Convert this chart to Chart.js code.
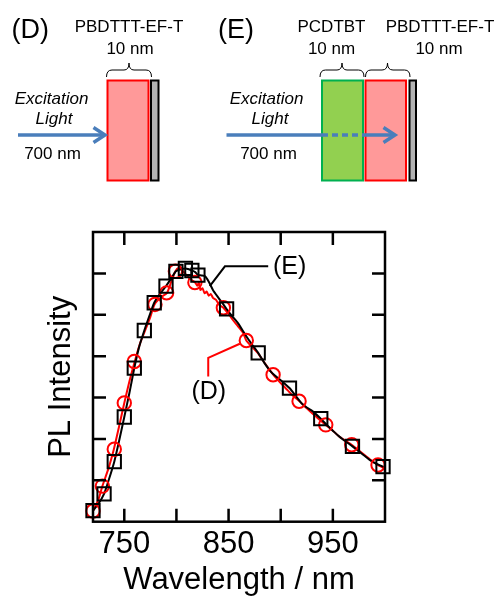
<!DOCTYPE html>
<html>
<head>
<meta charset="utf-8">
<script src="https://cdn.jsdelivr.net/npm/chart.js@4/dist/chart.umd.min.js"></script>
<style>
  html, body { margin: 0; padding: 0; background: #fff; }
  #wrap { position: relative; width: 499px; height: 596px; }
  #c { position: absolute; left: 0; top: 0; }
  #scheme { position: absolute; left: 0; top: 0; }
  #scheme text { font-family: "Liberation Sans", Arial, sans-serif; fill: #000; }
</style>
</head>
<body>
<div id="wrap">
  <canvas id="c" width="499" height="596"></canvas>
  <svg id="scheme" width="499" height="200" xmlns="http://www.w3.org/2000/svg">
    <!-- (D): single PBDTTT-EF-T layer -->
    <text x="11.5" y="38" font-size="27">(D)</text>
    <text x="129" y="32" font-size="17" text-anchor="middle">PBDTTT-EF-T</text>
    <text x="130" y="53.5" font-size="17" text-anchor="middle">10 nm</text>
    <path d="M106.5,77 Q106.5,70 112,70 L124,70 Q129,70 129,63 Q129,70 134,70 L146,70 Q151.5,70 151.5,77" fill="none" stroke="#000" stroke-width="1"/>
    <rect x="107.5" y="80.5" width="41" height="100" fill="#ff9999" stroke="#ff0000" stroke-width="2"/>
    <rect x="151" y="80.5" width="7.5" height="100" fill="#b3b3b3" stroke="#000" stroke-width="2"/>
    <text x="51.5" y="103.5" font-size="17" font-style="italic" text-anchor="middle">Excitation</text>
    <text x="54" y="123.5" font-size="17" font-style="italic" text-anchor="middle">Light</text>
    <text x="52.5" y="158.5" font-size="17" text-anchor="middle">700 nm</text>
    <line x1="18" y1="135" x2="104" y2="135" stroke="#4a7ebb" stroke-width="3.5"/>
    <polyline points="93.5,127.5 105,135 93.5,142.5" fill="none" stroke="#4a7ebb" stroke-width="3.5"/>

    <!-- (E): PCDTBT / PBDTTT-EF-T bilayer -->
    <text x="218" y="38" font-size="27">(E)</text>
    <text x="331.5" y="32" font-size="17" text-anchor="middle">PCDTBT</text>
    <text x="440" y="32" font-size="17" text-anchor="middle">PBDTTT-EF-T</text>
    <text x="331.5" y="53.5" font-size="17" text-anchor="middle">10 nm</text>
    <text x="439" y="53.5" font-size="17" text-anchor="middle">10 nm</text>
    <path d="M320,77 Q320,70 325.5,70 L337,70 Q342,70 342,63 Q342,70 347,70 L358.5,70 Q364,70 364,77" fill="none" stroke="#000" stroke-width="1"/>
    <path d="M365.5,77 Q365.5,70 371,70 L382,70 Q387.5,70 387.5,63 Q387.5,70 393,70 L404.5,70 Q410,70 410,77" fill="none" stroke="#000" stroke-width="1"/>
    <rect x="322" y="80.5" width="41" height="100" fill="#92d050" stroke="#00b050" stroke-width="2"/>
    <rect x="365.5" y="80.5" width="40.5" height="100" fill="#ff9999" stroke="#ff0000" stroke-width="2"/>
    <rect x="409.5" y="80.5" width="6.5" height="100" fill="#b3b3b3" stroke="#000" stroke-width="2"/>
    <text x="266.5" y="103.5" font-size="17" font-style="italic" text-anchor="middle">Excitation</text>
    <text x="270" y="123.5" font-size="17" font-style="italic" text-anchor="middle">Light</text>
    <text x="268.5" y="158.5" font-size="17" text-anchor="middle">700 nm</text>
    <line x1="226.5" y1="135" x2="322" y2="135" stroke="#4a7ebb" stroke-width="3.5"/>
    <line x1="322" y1="135" x2="365" y2="135" stroke="#4a7ebb" stroke-width="3.5" stroke-dasharray="6,4"/>
    <line x1="365" y1="135" x2="394" y2="135" stroke="#4a7ebb" stroke-width="3.5"/>
    <polyline points="383.5,127.5 395,135 383.5,142.5" fill="none" stroke="#4a7ebb" stroke-width="3.5"/>
  </svg>
</div>
<script>
// PL spectra of the PBDTTT-EF-T layer: (D) single layer, (E) on PCDTBT
const wavelengthD = [720, 725, 729, 735, 740, 745, 750, 755, 760, 765, 770, 775, 779, 785, 791, 795, 799, 802, 806, 810, 814, 818, 820, 821.5, 823, 825, 827, 829, 831, 833, 835, 838, 841, 845, 850, 854, 859, 864, 867, 872, 878, 885, 893, 900, 905, 911, 918, 925, 931, 937, 943, 950, 956, 962, 968, 975, 981, 987, 993, 1000];
const intensityD  = [0.26, 0.52, 0.86, 1.3, 1.75, 2.3, 2.87, 3.4, 3.87, 4.3, 4.62, 4.95, 5.25, 5.42, 5.53, 5.8, 6.05, 6.13, 6.06, 5.95, 5.85, 5.78, 5.7, 5.78, 5.6, 5.64, 5.52, 5.56, 5.46, 5.5, 5.41, 5.36, 5.24, 5.17, 5.02, 4.88, 4.72, 4.56, 4.38, 4.24, 4.08, 3.82, 3.55, 3.35, 3.22, 3.06, 2.91, 2.74, 2.6, 2.47, 2.34, 2.2, 2.06, 1.96, 1.86, 1.72, 1.6, 1.48, 1.37, 1.28];
const markerWavelengthD = [720, 729, 740.4, 750, 759.6, 779.4, 790.6, 799, 817.7, 845, 867, 892.7, 917.6, 943.2, 968.1, 993.3];
const markerIntensityD  = [0.26, 0.86, 1.75, 2.87, 3.87, 5.25, 5.53, 6.05, 5.78, 5.17, 4.38, 3.55, 2.91, 2.34, 1.86, 1.37];

const wavelengthE = [720, 725, 730.6, 735, 740.4, 745, 750, 755, 759.6, 764, 769.2, 774, 778.7, 784, 790, 795, 799.5, 804, 808.6, 812, 814.8, 818, 820.6, 824, 827.5, 831, 835, 840, 845, 848.1, 853, 859, 867, 872, 878.4, 884, 890, 895, 900, 908.4, 915, 920, 925, 931, 938.4, 945, 950, 955, 960, 968.8, 975, 980, 985, 990, 998.1, 1000];
const intensityE  = [0.27, 0.42, 0.67, 1.0, 1.45, 1.95, 2.53, 3.12, 3.71, 4.2, 4.62, 4.97, 5.29, 5.5, 5.69, 5.88, 6.05, 6.1, 6.12, 6.1, 6.07, 6.03, 5.96, 5.95, 5.93, 5.8, 5.6, 5.42, 5.25, 5.14, 4.98, 4.8, 4.48, 4.3, 4.08, 3.85, 3.64, 3.52, 3.42, 3.23, 3.02, 2.86, 2.76, 2.66, 2.49, 2.32, 2.2, 2.08, 1.98, 1.82, 1.7, 1.6, 1.5, 1.42, 1.33, 1.3];
const markerWavelengthE = [720, 730.6, 740.4, 750, 759.6, 769.2, 778.7, 790, 799.5, 808.6, 814.8, 820.6, 848.1, 878.4, 908.4, 938.4, 968.8, 998.1];
const markerIntensityE  = [0.27, 0.67, 1.45, 2.53, 3.71, 4.62, 5.29, 5.69, 6.05, 6.12, 6.07, 5.96, 5.14, 4.08, 3.23, 2.49, 1.82, 1.33];

const xTickValues = [750, 800, 850, 900, 950, 1000];
const xTickLabels = [750, 850, 950];
const yTickValues = [0, 1, 2, 3, 4, 5, 6, 7];

// leader lines and their labels, in data units (nm, intensity)
const leaderE = [[832, 5.69], [846.5, 6.17], [888, 6.17]];
const labelE = { text: '(E)', x: 892.5, y: 6.15 };
const leaderD = [[860.8, 4.3], [830.5, 3.96], [830.5, 3.51]];
const labelD = { text: '(D)', x: 831, y: 3.12 };

const FONT = '"Liberation Sans", Arial, sans-serif';
const toPoints = (xs, ys) => xs.map((x, i) => ({ x, y: ys[i] }));

const frameAndAnnotations = {
  id: 'frameAndAnnotations',
  afterDraw(chart) {
    const { ctx, chartArea: a, scales: { x, y } } = chart;
    ctx.save();
    ctx.strokeStyle = '#000';
    ctx.lineWidth = 2.5;
    ctx.strokeRect(a.left, a.top, a.right - a.left, a.bottom - a.top);
    const len = 13;
    ctx.beginPath();
    x.ticks.forEach(t => {
      const px = x.getPixelForValue(t.value);
      if (px <= a.left + 1 || px >= a.right - 1) return;
      ctx.moveTo(px, a.bottom); ctx.lineTo(px, a.bottom - len);
      ctx.moveTo(px, a.top); ctx.lineTo(px, a.top + len);
    });
    y.ticks.forEach(t => {
      const py = y.getPixelForValue(t.value);
      if (py <= a.top + 1 || py >= a.bottom - 1) return;
      ctx.moveTo(a.left, py); ctx.lineTo(a.left + len, py);
      ctx.moveTo(a.right, py); ctx.lineTo(a.right - len, py);
    });
    ctx.stroke();

    const drawLeader = (pts, color, label) => {
      ctx.strokeStyle = color;
      ctx.lineWidth = 2;
      ctx.beginPath();
      pts.forEach(([vx, vy], i) => {
        const px = x.getPixelForValue(vx), py = y.getPixelForValue(vy);
        if (i === 0) ctx.moveTo(px, py); else ctx.lineTo(px, py);
      });
      ctx.stroke();
      ctx.fillStyle = '#000';
      ctx.font = '25px ' + FONT;
      ctx.textBaseline = 'middle';
      ctx.textAlign = label.align;
      ctx.fillText(label.text, x.getPixelForValue(label.x), y.getPixelForValue(label.y));
    };
    drawLeader(leaderE, '#000', { ...labelE, align: 'left' });
    drawLeader(leaderD, '#ff0000', { ...labelD, align: 'center' });
    ctx.restore();
  }
};

Chart.defaults.color = '#000';
Chart.defaults.font.family = FONT;

new Chart(document.getElementById('c'), {
  type: 'scatter',
  data: {
    datasets: [
      {
        label: '(E) markers', data: toPoints(markerWavelengthE, markerIntensityE),
        showLine: false, pointStyle: 'rect', pointRadius: 9.4, borderColor: '#000',
        backgroundColor: 'rgba(0,0,0,0)', borderWidth: 2, order: 0, clip: false
      },
      {
        label: '(D) markers', data: toPoints(markerWavelengthD, markerIntensityD),
        showLine: false, pointStyle: 'circle', pointRadius: 6.7, borderColor: '#ff0000',
        backgroundColor: 'rgba(0,0,0,0)', borderWidth: 2, order: 1, clip: false
      },
      {
        label: '(E)', data: toPoints(wavelengthE, intensityE),
        showLine: true, pointRadius: 0, borderColor: '#000', borderWidth: 2,
        tension: 0.2, order: 2, clip: false
      },
      {
        label: '(D)', data: toPoints(wavelengthD, intensityD),
        showLine: true, pointRadius: 0, borderColor: '#ff0000', borderWidth: 2,
        tension: 0.2, order: 3, clip: false
      }
    ]
  },
  options: {
    responsive: false,
    animation: false,
    events: [],
    layout: { padding: { top: 232, right: 114, bottom: 0, left: 0 } },
    plugins: { legend: { display: false }, tooltip: { enabled: false } },
    scales: {
      x: {
        type: 'linear', min: 720, max: 1000,
        grid: { display: false, drawTicks: false },
        border: { display: false },
        afterBuildTicks: s => { s.ticks = xTickValues.map(v => ({ value: v })); },
        afterFit: s => { s.height = 74.3; },
        ticks: {
          padding: 4, maxRotation: 0, autoSkip: false,
          font: { size: 31, family: FONT },
          callback: v => (xTickLabels.includes(v) ? String(v) : '')
        },
        title: {
          display: true, text: 'Wavelength / nm',
          font: { size: 31, family: FONT, lineHeight: 1 },
          padding: { top: 0, bottom: 0 }
        }
      },
      y: {
        type: 'linear', min: 0, max: 7,
        grid: { display: false, drawTicks: false },
        border: { display: false },
        afterBuildTicks: s => { s.ticks = yTickValues.map(v => ({ value: v })); },
        afterFit: s => { s.width = 93; },
        ticks: { display: false },
        title: {
          display: true, text: 'PL Intensity',
          font: { size: 31, family: FONT, lineHeight: 1 },
          padding: { top: 45.5, bottom: 0 }
        }
      }
    }
  },
  plugins: [frameAndAnnotations]
});
</script>
</body>
</html>
